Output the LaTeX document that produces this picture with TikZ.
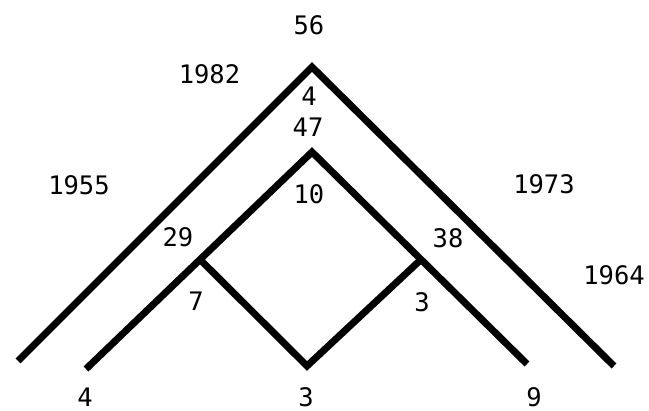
\documentclass[tikz,border=0pt]{standalone}
\usepackage{fontspec}
\setmonofont{DejaVu Sans Mono}
\usetikzlibrary{positioning}

\begin{document}
\begin{tikzpicture}[
  x=1pt, y=-1pt,
  branch/.style={
    draw=black,
    line width=7pt,
    line join=miter
  },
  weight/.style={
    font=\ttfamily\fontsize{25.5}{30}\selectfont,
    inner sep=0pt
  }
]
\useasboundingbox (0,0) rectangle (649,411);
% corner points of the outer and inner chevrons
\coordinate (outerL) at (18,361);
\coordinate (outerTop) at (312,67);
\coordinate (outerR) at (614,366);
\coordinate (innerL) at (86,369);
\coordinate (innerTop) at (312,152);
\coordinate (innerR) at (527,364);
% the diamond underneath
\coordinate (diaL) at (200,259.5);
\coordinate (diaR) at (421,259.5);
\coordinate (diaB) at (307,366);

\draw[branch] (outerL) -- (outerTop) -- (outerR);
\draw[branch] (innerL) -- (innerTop) -- (innerR);
\draw[branch] (diaL) -- (diaB) -- (diaR);

% labels
\node[weight] (yTop) at (309,25) {56};
\node[weight] (yA) at (209.5,74) {1982};
\node[weight] (wTop) at (309,96) {4};
\node[weight] (wInner) at (308,127) {47};
\node[weight] (wMid) at (309,194) {10};
\node[weight] (yB) at (79,185) {1955};
\node[weight] (yC) at (544,184) {1973};
\node[weight] (yD) at (614,275) {1964};
\node[weight] (wL) at (178,237) {29};
\node[weight] (wR) at (448,238) {38};
\node[weight] (wDL) at (196,301) {7};
\node[weight] (wDR) at (422,302) {3};
\node[weight] (leafL) at (85,397) {4};
\node[weight] (leafM) at (306,397) {3};
\node[weight] (leafR) at (534,397) {9};
\end{tikzpicture}
\end{document}
